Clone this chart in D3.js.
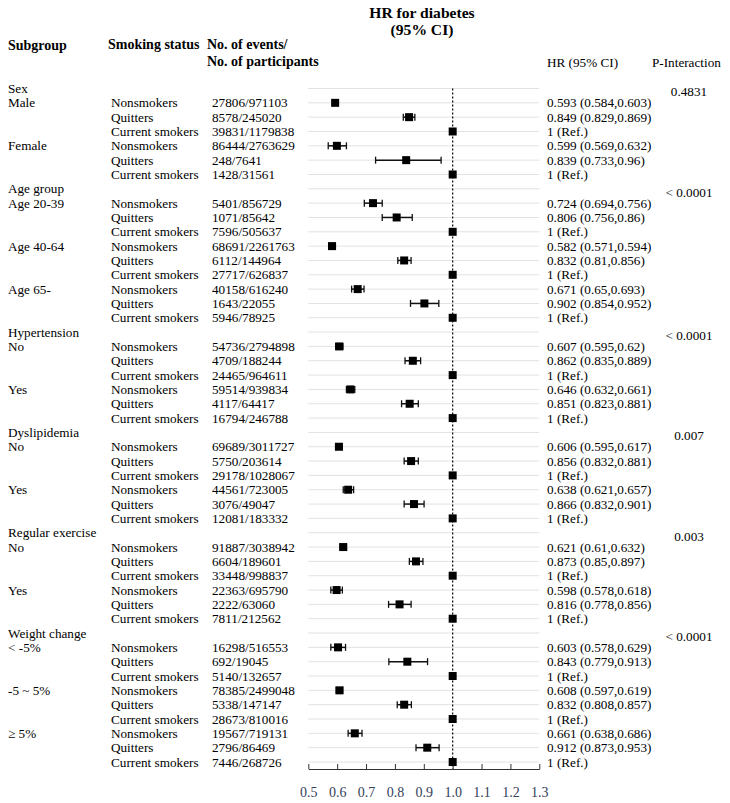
<!DOCTYPE html>
<html>
<head>
<meta charset="utf-8">
<script src="https://cdn.jsdelivr.net/npm/d3@7"></script>
<style>
  body { margin: 0; background: #fff; }
  svg { font-family: "Liberation Serif", "Times New Roman", serif; }
</style>
</head>
<body>
<div id="chart"></div>
<script>
// groups and their p for interaction
const groups = ["Sex", "Age group", "Hypertension", "Dyslipidemia", "Regular exercise", "Weight change"];
const pInteraction = ["0.4831", "< 0.0001", "< 0.0001", "0.007", "0.003", "< 0.0001"];
const subgroups = [
    ["Male", "Female"],
    ["Age 20-39", "Age 40-64", "Age 65-"],
    ["No", "Yes"],
    ["No", "Yes"],
    ["No", "Yes"],
    ["< -5%", "-5 ~ 5%", "\u2265 5%"]
];
const statuses = ["Nonsmokers", "Quitters", "Current smokers"];

// one entry per subgroup x status row
const events = [
    "27806/971103", "8578/245020", "39831/1179838",
    "86444/2763629", "248/7641", "1428/31561",
    "5401/856729", "1071/85642", "7596/505637",
    "68691/2261763", "6112/144964", "27717/626837",
    "40158/616240", "1643/22055", "5946/78925",
    "54736/2794898", "4709/188244", "24465/964611",
    "59514/939834", "4117/64417", "16794/246788",
    "69689/3011727", "5750/203614", "29178/1028067",
    "44561/723005", "3076/49047", "12081/183332",
    "91887/3038942", "6604/189601", "33448/998837",
    "22363/695790", "2222/63060", "7811/212562",
    "16298/516553", "692/19045", "5140/132657",
    "78385/2499048", "5338/147147", "28673/810016",
    "19567/719131", "2796/86469", "7446/268726"
];
const hr = [
    0.593, 0.849, 1, 0.599, 0.839, 1,
    0.724, 0.806, 1, 0.582, 0.832, 1, 0.671, 0.902, 1,
    0.607, 0.862, 1, 0.646, 0.851, 1,
    0.606, 0.856, 1, 0.638, 0.866, 1,
    0.621, 0.873, 1, 0.598, 0.816, 1,
    0.603, 0.843, 1, 0.608, 0.832, 1, 0.661, 0.912, 1
];
const lower = [
    0.584, 0.829, null, 0.569, 0.733, null,
    0.694, 0.756, null, 0.571, 0.81, null, 0.65, 0.854, null,
    0.595, 0.835, null, 0.632, 0.823, null,
    0.595, 0.832, null, 0.621, 0.832, null,
    0.61, 0.85, null, 0.578, 0.778, null,
    0.578, 0.779, null, 0.597, 0.808, null, 0.638, 0.873, null
];
const upper = [
    0.603, 0.869, null, 0.632, 0.96, null,
    0.756, 0.86, null, 0.594, 0.856, null, 0.693, 0.952, null,
    0.62, 0.889, null, 0.661, 0.881, null,
    0.617, 0.881, null, 0.657, 0.901, null,
    0.632, 0.897, null, 0.618, 0.856, null,
    0.629, 0.913, null, 0.619, 0.857, null, 0.686, 0.953, null
];
const xTicks = [0.5, 0.6, 0.7, 0.8, 0.9, 1.0, 1.1, 1.2, 1.3];

// flatten into display rows
const rows = [];
let k = 0;
groups.forEach((g, gi) => {
    rows.push({ type: "header", label: g, p: pInteraction[gi] });
    subgroups[gi].forEach(sg => {
        statuses.forEach((st, si) => {
            rows.push({
                type: "data", sub: si === 0 ? sg : "", status: st, events: events[k],
                hr: hr[k], lo: lower[k], hi: upper[k]
            });
            k++;
        });
    });
});

const width = 730, height = 803;
const svg = d3.select("#chart").append("svg")
    .attr("width", width).attr("height", height);

const x = d3.scaleLinear().domain([0.5, 1.3]).range([308.3, 539.3]);
const y = d3.scalePoint().domain(d3.range(rows.length)).range([88.5, 762]);
const axisY = 769;
const fs = "13.2px";

// titles
svg.append("text").attr("x", 422).attr("y", 18).attr("text-anchor", "middle")
    .attr("font-weight", "bold").attr("font-size", "15.6px").text("HR for  diabetes");
svg.append("text").attr("x", 422).attr("y", 35).attr("text-anchor", "middle")
    .attr("font-weight", "bold").attr("font-size", "15.6px").text("(95% CI)");

const hdr = [
    { x: 8, y: 50, t: "Subgroup" },
    { x: 108, y: 49, t: "Smoking status" },
    { x: 207, y: 49, t: "No. of events/" },
    { x: 207, y: 66, t: "No. of participants" }
];
svg.selectAll(".hdr").data(hdr).enter().append("text")
    .attr("x", d => d.x).attr("y", d => d.y)
    .attr("font-weight", "bold").attr("font-size", "14px").text(d => d.t);

svg.append("text").attr("x", 547).attr("y", 66.5).attr("font-size", fs).text("HR (95% CI)");
svg.append("text").attr("x", 652).attr("y", 66.5).attr("font-size", fs).text("P-Interaction");

// gridlines
svg.append("g").selectAll("line").data(rows).enter().append("line")
    .attr("x1", x(0.5)).attr("x2", x(1.3))
    .attr("y1", (d, i) => y(i)).attr("y2", (d, i) => y(i))
    .attr("stroke", "#e2e2e2").attr("stroke-width", 1);

// reference line at 1
svg.append("line")
    .attr("x1", x(1)).attr("x2", x(1))
    .attr("y1", y(0)).attr("y2", axisY)
    .attr("stroke", "#000").attr("stroke-width", 1.2)
    .attr("stroke-dasharray", "2,2");

// axis
const axis = svg.append("g").attr("transform", `translate(0,${axisY})`)
    .call(d3.axisBottom(x).tickValues(xTicks).tickFormat(d3.format(".1f"))
        .tickSizeInner(-5).tickSizeOuter(0).tickPadding(18));
axis.select(".domain").attr("stroke", "#333");
axis.selectAll(".tick line").attr("stroke", "#333");
axis.selectAll("text").attr("font-family", "Liberation Serif, serif")
    .attr("font-size", "14px").attr("fill", "#33405a");

// row texts
const rg = svg.append("g").selectAll("g").data(rows).enter().append("g")
    .attr("transform", (d, i) => `translate(0,${y(i)})`)
    .attr("font-size", fs);

rg.append("text").attr("x", 8).attr("dy", "0.35em")
    .text(d => d.type === "header" ? d.label : d.sub);
rg.filter(d => d.type === "header").append("text")
    .attr("x", 689).attr("dy", "0.6em").attr("text-anchor", "middle")
    .text(d => d.p);

const dr = rg.filter(d => d.type === "data");
dr.append("text").attr("x", 111).attr("dy", "0.35em").text(d => d.status);
dr.append("text").attr("x", 212).attr("dy", "0.35em").text(d => d.events);
dr.append("text").attr("x", 547).attr("dy", "0.35em")
    .text(d => d.lo == null ? "1 (Ref.)" : `${d.hr} (${d.lo},${d.hi})`);

// CI whiskers
const ci = dr.filter(d => d.lo != null);
ci.append("line").attr("x1", d => x(d.lo)).attr("x2", d => x(d.hi))
    .attr("stroke", "#111").attr("stroke-width", 1.5);
ci.append("line").attr("x1", d => x(d.lo)).attr("x2", d => x(d.lo))
    .attr("y1", -3.5).attr("y2", 3.5).attr("stroke", "#111").attr("stroke-width", 1.3);
ci.append("line").attr("x1", d => x(d.hi)).attr("x2", d => x(d.hi))
    .attr("y1", -3.5).attr("y2", 3.5).attr("stroke", "#111").attr("stroke-width", 1.3);

// point estimates
dr.append("rect")
    .attr("x", d => x(d.hr) - 4).attr("y", -4)
    .attr("width", 8).attr("height", 8)
    .attr("fill", "#000");
</script>
</body>
</html>
